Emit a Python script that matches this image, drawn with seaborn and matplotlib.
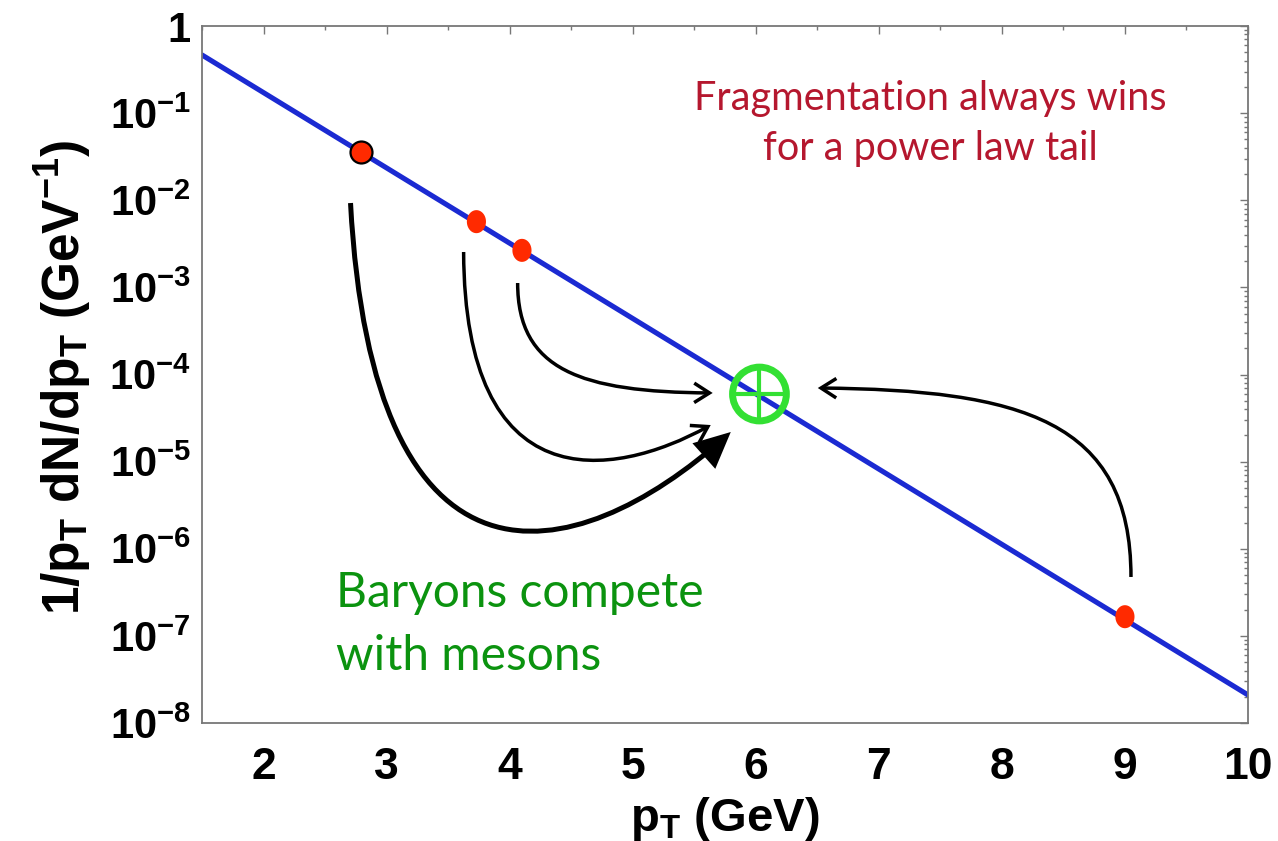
import numpy as np
import pandas as pd
import matplotlib
matplotlib.use("Agg")
import matplotlib.pyplot as plt
from matplotlib.path import Path
from matplotlib.patches import FancyArrowPatch, ArrowStyle
from matplotlib.markers import MarkerStyle
from matplotlib.ticker import MultipleLocator, LogLocator, NullFormatter
import seaborn as sns

# ---- data -------------------------------------------------------------
# exponential spectrum (straight on a log axis): end points of the curve
pt_line = [1.5, 10.0]
yield_line = [0.465, 2.1e-8]

# hadrons sitting on the spectrum
pt_points = [2.79, 3.73, 4.10, 9.00]
yield_points = [0.0358, 5.68e-3, 2.66e-3, 1.66e-7]

# the recombined hadron
pt_target = [6.03]
yield_target = [5.97e-5]

x_ticks = [2, 3, 4, 5, 6, 7, 8, 9, 10]
y_ticks = [1, 1e-1, 1e-2, 1e-3, 1e-4, 1e-5, 1e-6, 1e-7, 1e-8]
y_tick_labels = ["1", "$10^{-1}$", "$10^{-2}$", "$10^{-3}$", "$10^{-4}$",
                 "$10^{-5}$", "$10^{-6}$", "$10^{-7}$", "$10^{-8}$"]

# ---- style ------------------------------------------------------------
sns.set_style("white")
plt.rcParams["font.family"] = ["Liberation Sans", "DejaVu Sans"]
plt.rcParams["mathtext.fontset"] = "custom"
plt.rcParams["mathtext.rm"] = "Liberation Sans:bold"
plt.rcParams["mathtext.it"] = "Liberation Sans:bold"
plt.rcParams["mathtext.bf"] = "Liberation Sans:bold"
plt.rcParams["mathtext.default"] = "regular"

fig = plt.figure(figsize=(12.78, 8.41), dpi=100)
ax = fig.add_axes([202 / 1278, 1 - 723 / 841, 1046 / 1278, 697 / 841])

line_df = pd.DataFrame({"pt": pt_line, "y": yield_line})
sns.lineplot(data=line_df, x="pt", y="y", ax=ax, color="#1b2ad2", lw=3.7,
             zorder=2)

# small vertically stretched dots
theta = np.linspace(0, 2 * np.pi, 60)
ellipse = Path(np.column_stack([0.83 * np.cos(theta), np.sin(theta)]),
               closed=True)
pts_df = pd.DataFrame({"pt": pt_points, "y": yield_points})
sns.scatterplot(data=pts_df.iloc[1:], x="pt", y="y", ax=ax,
                marker=MarkerStyle(ellipse), s=275, color="#ff2a00",
                edgecolor="none", zorder=4)
sns.scatterplot(data=pts_df.iloc[:1], x="pt", y="y", ax=ax, marker="o",
                s=250, color="#ff2a00", edgecolor="black", linewidth=1.6,
                zorder=4)

# recombined hadron: ring with a cross
tgt_df = pd.DataFrame({"pt": pt_target, "y": yield_target})
sns.scatterplot(data=tgt_df, x="pt", y="y", ax=ax, marker="o", s=1500,
                facecolor="none", edgecolor="#33e033", linewidth=5.0,
                zorder=5)
sns.scatterplot(data=tgt_df, x="pt", y="y", ax=ax, marker="+", s=1500,
                color="#33e033", linewidth=3.0, zorder=5)

ax.set_yscale("log")
ax.set_xlim(1.5, 10)
ax.set_ylim(1e-8, 1)

# ---- arrows (cubic Bezier curves in data coordinates) -----------------
def curve(ax, xs, logys, style, lw):
    verts = np.column_stack([xs, 10.0 ** np.asarray(logys)])
    path = Path(verts, [Path.MOVETO, Path.CURVE4, Path.CURVE4, Path.CURVE4])
    arr = FancyArrowPatch(path=path, arrowstyle=style, mutation_scale=1,
                          lw=lw, color="black", transform=ax.transData,
                          zorder=3, capstyle="butt", joinstyle="miter")
    ax.add_patch(arr)

thick_head = ArrowStyle("-|>", head_length=20, head_width=9.5)
thin_head = ArrowStyle("->", head_length=11, head_width=7)

curve(ax, [2.707, 2.886, 4.496, 5.797], [-2.032, -6.703, -6.301, -4.660],
      thick_head, 3.6)
curve(ax, [3.626, 3.634, 4.821, 5.634], [-2.594, -5.440, -5.211, -4.580],
      thin_head, 2.5)
curve(ax, [4.065, 4.065, 4.577, 5.650], [-2.950, -3.948, -4.201, -4.212],
      thin_head, 2.5)
curve(ax, [9.049, 9.049, 8.154, 6.504], [-6.324, -4.522, -4.178, -4.155],
      thin_head, 2.5)

# ---- annotations ------------------------------------------------------
red = "#b5172e"
green = "#0b930f"
ax.text(7.415, 10 ** -0.965, "Fragmentation always wins", color=red,
        fontsize=28.5, family="Lato", ha="center", va="baseline")
ax.text(7.415, 10 ** -1.538, "for a power law tail", color=red,
        fontsize=28.5, family="Lato", ha="center", va="baseline")
ax.text(2.585, 10 ** -6.668, "Baryons compete", color=green,
        fontsize=34.5, family="Lato", ha="left", va="baseline")
ax.text(2.585, 10 ** -7.392, "with mesons", color=green,
        fontsize=34.5, family="Lato", ha="left", va="baseline")

# ---- axes -------------------------------------------------------------
ax.set_xticks(x_ticks)
ax.set_xticklabels([str(v) for v in x_ticks])
ax.xaxis.set_minor_locator(MultipleLocator(0.5))
ax.set_yticks(y_ticks)
ax.set_yticklabels(y_tick_labels)
ax.yaxis.set_minor_locator(LogLocator(base=10, subs=np.arange(2, 10),
                                      numticks=20))
ax.yaxis.set_minor_formatter(NullFormatter())

ax.tick_params(which="both", direction="in", top=True, right=True,
               color="#777777", width=1.0, labelcolor="black")
ax.tick_params(which="major", length=6)
ax.tick_params(which="minor", length=3)
ax.tick_params(axis="x", which="major", labelsize=32, pad=17)
ax.tick_params(axis="y", which="major", labelsize=30, pad=8)
for lab in ax.get_xticklabels() + ax.get_yticklabels():
    lab.set_fontweight("bold")
for sp in ax.spines.values():
    sp.set_color("#777777")
    sp.set_linewidth(1.3)

ax.set_xlabel(r"p$_{T}$ (GeV)", fontsize=34, fontweight="bold",
              color="black", labelpad=5)
ax.set_ylabel(r"1/p$_{T}$ dN/dp$_{T}$ (GeV$^{-1}$)", fontsize=37,
              fontweight="bold", color="black")
ax.yaxis.set_label_coords(-0.103, 0.496)

fig.savefig("out.png", dpi=100, facecolor="white")
